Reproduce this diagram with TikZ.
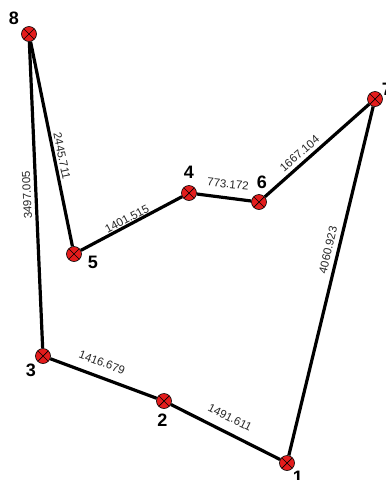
\documentclass[tikz,border=0pt]{standalone}
\usepackage{fontspec}
\setmainfont{Liberation Sans}
\definecolor{ptred}{RGB}{228,28,28}
\begin{document}
\begin{tikzpicture}[x=1pt,y=-1pt,
  pnt/.style={circle,fill=ptred,draw=black,line width=0.6pt,minimum size=15pt,inner sep=0pt,
    path picture={\draw[line width=0.7pt]
      ([xshift=-5pt,yshift=-5pt]path picture bounding box.center) -- ([xshift=5pt,yshift=5pt]path picture bounding box.center)
      ([xshift=-5pt,yshift=5pt]path picture bounding box.center) -- ([xshift=5pt,yshift=-5pt]path picture bounding box.center);}},
  seg/.style={line width=3.2pt,black},
  num/.style={font=\bfseries\fontsize{18}{18}\selectfont,inner sep=0pt},
  len/.style={font=\fontsize{11.5}{11.5}\selectfont,inner sep=0pt,text=black!85}]
\useasboundingbox (0,0) rectangle (386,480);
\clip (0,0) rectangle (386,480);
% points
\node[pnt] (p8) at (29,34) {};
\node[pnt] (p5) at (74,254) {};
\node[pnt] (p4) at (189,193) {};
\node[pnt] (p6) at (259,202) {};
\node[pnt] (p7) at (375,99) {};
\node[pnt] (p1) at (287,463) {};
\node[pnt] (p2) at (164,401) {};
\node[pnt] (p3) at (43,356) {};
% edges
\draw[seg] (p8) -- (p5);
\draw[seg] (p5) -- (p4);
\draw[seg] (p4) -- (p6);
\draw[seg] (p6) -- (p7);
\draw[seg] (p7) -- (p1);
\draw[seg] (p1) -- (p2);
\draw[seg] (p2) -- (p3);
\draw[seg] (p3) -- (p8);
% number labels
\node[num] (l8) at (14,18.5) {8};
\node[num] (l5) at (93,262) {5};
\node[num] (l4) at (189,172) {4};
\node[num] (l6) at (262,182) {6};
\node[num] (l7) at (387,89) {7};
\node[num] (l1) at (298,477) {1};
\node[num] (l2) at (162.5,420) {2};
\node[num] (l3) at (31,370.5) {3};
% length labels
\node[len,rotate=-78.4] (d85) at (62,156) {2445.711};
\node[len,rotate=92.5] (d83) at (27,195) {3497.005};
\node[len,rotate=27.9] (d54) at (127,219) {1401.515};
\node[len,rotate=-6] (d46) at (228,184) {773.172};
\node[len,rotate=41.3] (d67) at (299.5,153.5) {1667.104};
\node[len,rotate=76.6] (d71) at (328,250) {4060.923};
\node[len,rotate=-20.4] (d32) at (102,362.5) {1416.679};
\node[len,rotate=-26.6] (d21) at (230,417.5) {1491.611};
\end{tikzpicture}
\end{document}
